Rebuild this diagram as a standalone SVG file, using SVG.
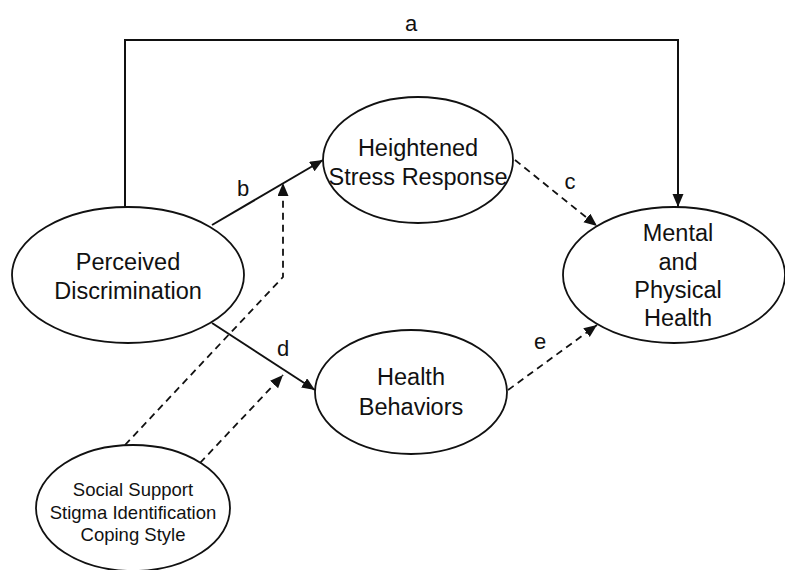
<svg xmlns="http://www.w3.org/2000/svg" width="785" height="570" viewBox="0 0 785 570">
<style>
.node ellipse{fill:#fff;stroke:#111;stroke-width:1.8}
.node text{font-family:"Liberation Sans",Arial,Helvetica,sans-serif;font-size:23.5px;fill:#111;text-anchor:middle}
.node text.sm{font-size:18.5px}
.lbl{font-family:"Liberation Sans",Arial,Helvetica,sans-serif;font-size:22px;fill:#111;text-anchor:middle}
.solid{fill:none;stroke:#111;stroke-width:2}
.dash{fill:none;stroke:#111;stroke-width:1.8;stroke-dasharray:7 5}
</style>
<defs>
<marker id="ah" markerUnits="userSpaceOnUse" markerWidth="14" markerHeight="12" refX="13" refY="5.5" orient="auto">
<path d="M0,0 L13,5.5 L0,11 z" fill="#111"/>
</marker>
</defs>
<rect width="785" height="570" fill="#fff"/>
<g id="connectors">
<path class="solid" d="M125,207 V40 H678 V207" marker-end="url(#ah)"/>
<line class="solid" x1="212" y1="225" x2="323" y2="160" marker-end="url(#ah)"/>
<line class="solid" x1="212" y1="323" x2="315" y2="390" marker-end="url(#ah)"/>
<line class="dash" x1="515" y1="160" x2="597" y2="226" marker-end="url(#ah)"/>
<line class="dash" x1="508" y1="390" x2="597" y2="325" marker-end="url(#ah)"/>
<path class="dash" d="M125,445 L283,277 V183" marker-end="url(#ah)"/>
<line class="dash" x1="200" y1="463" x2="283" y2="375" marker-end="url(#ah)"/>
<text class="lbl" x="411" y="31">a</text>
<text class="lbl" x="243" y="196">b</text>
<text class="lbl" x="570" y="189">c</text>
<text class="lbl" x="283" y="356">d</text>
<text class="lbl" x="540" y="349">e</text>
</g>
<g id="perceived" class="node">
<ellipse cx="128" cy="275" rx="116" ry="68"/>
<text x="128" y="270">Perceived</text>
<text x="128" y="299">Discrimination</text>
</g>
<g id="stress" class="node">
<ellipse cx="418" cy="160" rx="95" ry="63"/>
<text x="418" y="156">Heightened</text>
<text x="418" y="185">Stress Response</text>
</g>
<g id="behaviors" class="node">
<ellipse cx="411" cy="392" rx="96" ry="62"/>
<text x="411" y="385">Health</text>
<text x="411" y="415">Behaviors</text>
</g>
<g id="health" class="node">
<ellipse cx="674" cy="275" rx="111" ry="68"/>
<text x="678" y="241">Mental</text>
<text x="678" y="270">and</text>
<text x="678" y="298">Physical</text>
<text x="678" y="326">Health</text>
</g>
<g id="moderators" class="node">
<ellipse cx="133" cy="508" rx="97" ry="63"/>
<text class="sm" x="133" y="496">Social Support</text>
<text class="sm" x="133" y="519">Stigma Identification</text>
<text class="sm" x="133" y="541">Coping Style</text>
</g>
</svg>
